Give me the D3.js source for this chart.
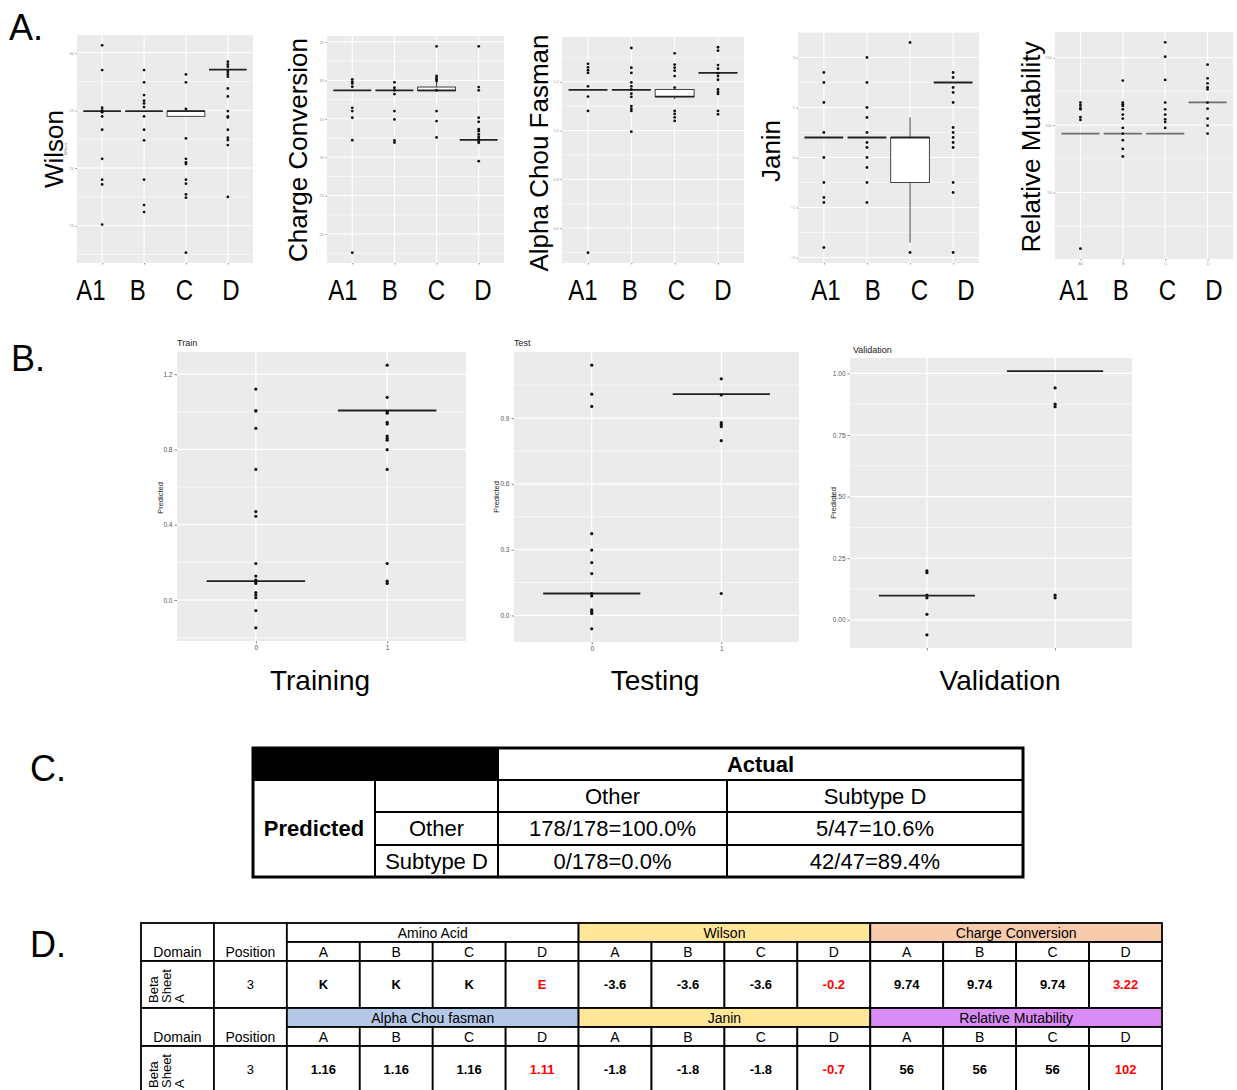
<!DOCTYPE html>
<html>
<head>
<meta charset="utf-8">
<script src="https://cdn.jsdelivr.net/npm/d3@7"></script>
<style>
  body { margin: 0; background: #fff; }
  svg { display: block; font-family: "Liberation Sans", Arial, sans-serif; }
</style>
</head>
<body>
<div id="fig"></div>
<script>
// ---- Panel A data ----
var groupsA = ["A1", "B", "C", "D"];

var wilsonPoints = [
    [30.64, 28.5, 25.23, 25.0, 24.83, 24.48, 23.32, 20.8, 18.99, 18.58, 15.09],
    [28.5, 27.43, 26.33, 25.84, 25.6, 25.29, 24.48, 23.32, 22.4, 18.99, 16.79, 16.18],
    [28.12, 27.43, 25.12, 22.57, 20.8, 20.49, 20.35, 18.99, 18.64, 17.72, 17.43, 12.66],
    [29.22, 28.99, 28.79, 28.5, 28.32, 28.12, 27.92, 26.9, 26.21, 24.94, 24.48, 24.39, 23.32, 22.63, 22.43, 21.99, 17.49]
];
// box stats per group: [lower whisker, q1, median, q3, upper whisker]
var wilsonBoxes = [
    [24.94, 24.94, 24.94, 24.94, 24.94],
    [24.94, 24.94, 24.94, 24.94, 24.94],
    [24.48, 24.48, 24.94, 24.94, 25.12],
    [28.53, 28.53, 28.53, 28.53, 28.53]
];
var wilsonTicks = [15, 20, 25, 30];

var chargePoints = [
    [40.13, 39.83, 39.6, 39.17, 36.43, 36.0, 35.13, 32.22, 17.57],
    [39.74, 39.04, 38.7, 38.22, 36.0, 34.91, 32.17, 31.91],
    [44.43, 40.57, 40.35, 40.13, 39.91, 38.7, 36.0, 34.7, 32.57],
    [44.43, 39.13, 38.7, 35.13, 34.6, 33.65, 33.39, 32.96, 32.65, 32.39, 32.26, 32.09, 31.87, 29.48]
];
var chargeBoxes = [
    [38.7, 38.7, 38.7, 38.7, 38.7],
    [38.7, 38.7, 38.7, 38.7, 38.7],
    [38.65, 38.65, 38.7, 39.13, 40.35],
    [32.26, 32.26, 32.26, 32.26, 32.26]
];
var chargeTicks = [20, 25, 30, 35, 40, 45];

var alphaPoints = [
    [1.273, 1.259, 1.247, 1.236, 1.181, 1.139, 1.080, 0.499],
    [1.338, 1.257, 1.236, 1.197, 1.181, 1.168, 1.151, 1.138, 1.1, 1.089, 1.080, 0.995],
    [1.316, 1.270, 1.258, 1.245, 1.223, 1.176, 1.080, 1.068, 1.054, 1.039],
    [1.341, 1.327, 1.268, 1.253, 1.235, 1.223, 1.208, 1.168, 1.158, 1.150, 1.080, 1.066]
];
var alphaBoxes = [
    [1.166, 1.166, 1.166, 1.166, 1.166],
    [1.166, 1.166, 1.166, 1.166, 1.166],
    [1.128, 1.139, 1.139, 1.168, 1.181],
    [1.236, 1.236, 1.236, 1.236, 1.236]
];
var alphaTicks = [0.6, 0.8, 1.0, 1.2];

var janinPoints = [
    [1.7, 1.5, 1.1, 0.5, 0, -0.5, -0.8, -0.9, -1.8],
    [2.0, 1.5, 1.0, 0.8, 0.5, 0.3, 0.2, 0, -0.2, -0.5, -0.9],
    [2.3, -1.9],
    [1.7, 1.6, 1.4, 1.3, 1.1, 0.6, 0.5, 0.4, 0.3, 0.2, -0.5, -0.7, -1.9]
];
var janinBoxes = [
    [0.4, 0.4, 0.4, 0.4, 0.4],
    [0.4, 0.4, 0.4, 0.4, 0.4],
    [-1.7, -0.5, 0.4, 0.4, 0.8],
    [1.5, 1.5, 1.5, 1.5, 1.5]
];
var janinTicks = [-2, -1, 0, 1, 2];

var mutabilityPoints = [
    [116.7, 114.7, 112.7, 111.7, 105.8, 103.8, 8.3],
    [133.0, 116.7, 115.4, 114.2, 111.7, 107.8, 104.8, 97.9, 93.7, 88.8, 82.3, 76.7],
    [161.4, 150.7, 133.5, 116.7, 111.7, 107.8, 104.3, 102.3, 97.9],
    [144.8, 134.7, 131.0, 128.0, 126.5, 116.7, 112.2, 104.8, 99.6, 93.7]
];
var mutabilityBoxes = [
    [93.7, 93.7, 93.7, 93.7, 93.7],
    [93.7, 93.7, 93.7, 93.7, 93.7],
    [93.7, 93.7, 93.7, 93.7, 93.7],
    [116.9, 116.9, 116.9, 116.9, 116.9]
];
var mutabilityTicks = [50, 100, 150];

// ---- Panel B data ----
var classesB = ["0", "1"];
var trainPoints = [
    [1.121, 1.007, 1.004, 0.912, 0.694, 0.470, 0.445, 0.194, 0.127, 0.106, 0.097, 0.088, 0.040, 0.026, 0.012, -0.056, -0.148],
    [1.248, 1.077, 1.0, 0.993, 0.944, 0.935, 0.871, 0.859, 0.849, 0.799, 0.694, 0.194, 0.1, 0.088]
];
var trainMedians = [0.1, 1.007];
var trainTicks = [0.0, 0.4, 0.8, 1.2];

var testPoints = [
    [1.141, 1.009, 0.953, 0.373, 0.298, 0.241, 0.191, 0.1, 0.089, 0.026, 0.018, 0.009, -0.061],
    [1.079, 1.005, 0.879, 0.870, 0.861, 0.797, 0.1]
];
var testMedians = [0.1, 1.009];
var testTicks = [0.0, 0.3, 0.6, 0.9];

var validPoints = [
    [0.199, 0.191, 0.1, 0.089, 0.022, -0.061],
    [0.941, 0.875, 0.865, 0.1, 0.089]
];
var validMedians = [0.098, 1.009];
var validTicks = [0.0, 0.25, 0.5, 0.75, 1.0];

// ---- Panel C data ----
var confusionCols = ["Other", "Subtype D"];
var confusionRows = ["Other", "Subtype D"];
var confusionCells = [
    ["178/178=100.0%", "5/47=10.6%"],
    ["0/178=0.0%", "42/47=89.4%"]
];

// ---- Panel D data ----
var subtypes = ["A", "B", "C", "D"];
var featureGroups1 = ["Amino Acid", "Wilson", "Charge Conversion"];
var featureGroups2 = ["Alpha Chou fasman", "Janin", "Relative Mutability"];
var featureValues1 = [["K", "K", "K", "E"], ["-3.6", "-3.6", "-3.6", "-0.2"], ["9.74", "9.74", "9.74", "3.22"]];
var featureValues2 = [["1.16", "1.16", "1.16", "1.11"], ["-1.8", "-1.8", "-1.8", "-0.7"], ["56", "56", "56", "102"]];
var domainWords = ["Beta", "Sheet", "A"];
var positionValue = "3";

// ------------------------------------------------------------------
var svg = d3.select("#fig").append("svg")
    .attr("width", 1237)
    .attr("height", 1090);

// Draw one ggplot-like boxplot-with-points panel, returns the x scale
function drawBoxPanel(p, st) {
    var bx = p.box[0], by = p.box[1], w = p.box[2], h = p.box[3];
    var g = svg.append("g").attr("transform", "translate(" + bx + "," + by + ")");

    var ext = d3.extent(d3.merge(p.points.concat(p.boxes)));
    var pad = (ext[1] - ext[0]) * 0.05;
    var y = d3.scaleLinear().domain([ext[0] - pad, ext[1] + pad]).range([h, 0]);
    var x = d3.scalePoint().domain(p.cats).range([0, w]).padding(0.6);

    g.append("rect").attr("width", w).attr("height", h).attr("fill", "#ebebeb");

    // minor + major grid
    var step = p.ticks[1] - p.ticks[0];
    var minor = d3.range(p.ticks[0] - step / 2, p.ticks[p.ticks.length - 1] + step, step)
        .filter(function(v) { return v > y.domain()[0] && v < y.domain()[1]; });
    g.selectAll(".minor").data(minor).enter().append("line")
        .attr("class", "minor")
        .attr("x1", 0).attr("x2", w)
        .attr("y1", function(d) { return y(d); }).attr("y2", function(d) { return y(d); })
        .attr("stroke", "#fff").attr("stroke-width", st.minorW);
    g.selectAll(".major").data(p.ticks).enter().append("line")
        .attr("class", "major")
        .attr("x1", 0).attr("x2", w)
        .attr("y1", function(d) { return y(d); }).attr("y2", function(d) { return y(d); })
        .attr("stroke", "#fff").attr("stroke-width", st.majorW);
    g.selectAll(".vgrid").data(p.cats).enter().append("line")
        .attr("class", "vgrid")
        .attr("x1", function(d) { return x(d); }).attr("x2", function(d) { return x(d); })
        .attr("y1", 0).attr("y2", h)
        .attr("stroke", "#fff").attr("stroke-width", st.majorW);

    // axes
    var yAxis = g.append("g")
        .call(d3.axisLeft(y).tickValues(p.ticks).tickSize(st.tickLen).tickPadding(st.tickPad)
            .tickFormat(d3.format(p.fmt)));
    var xAxis = g.append("g")
        .attr("transform", "translate(0," + h + ")")
        .call(d3.axisBottom(x).tickSize(st.tickLen).tickPadding(st.tickPad)
            .tickFormat(p.xLabels ? null : function() { return ""; }));
    [yAxis, xAxis].forEach(function(a) {
        a.select(".domain").remove();
        a.selectAll(".tick line").attr("stroke", "#444").attr("stroke-width", 0.6);
        a.selectAll(".tick text").attr("fill", st.tickColor)
            .style("font-size", st.tickFont + "px")
            .style("font-family", "'Liberation Sans', Arial, sans-serif");
    });

    // boxes
    var bw = x.step() * st.boxFrac;
    p.boxes.forEach(function(s, i) {
        var cx = x(p.cats[i]);
        if (s[3] > s[1]) {
            g.append("line").attr("x1", cx).attr("x2", cx).attr("y1", y(s[4])).attr("y2", y(s[3]))
                .attr("stroke", "#444").attr("stroke-width", 1);
            g.append("line").attr("x1", cx).attr("x2", cx).attr("y1", y(s[1])).attr("y2", y(s[0]))
                .attr("stroke", "#444").attr("stroke-width", 1);
            g.append("rect").attr("x", cx - bw / 2).attr("y", y(s[3]))
                .attr("width", bw).attr("height", y(s[1]) - y(s[3]))
                .attr("fill", "#fff").attr("stroke", "#444").attr("stroke-width", 1);
        }
        g.append("line").attr("x1", cx - bw / 2).attr("x2", cx + bw / 2)
            .attr("y1", y(s[2])).attr("y2", y(s[2]))
            .attr("stroke", p.medColor || "#222").attr("stroke-width", st.medW);
    });

    // points
    p.points.forEach(function(vals, i) {
        g.selectAll(null).data(vals).enter().append("circle")
            .attr("cx", x(p.cats[i]))
            .attr("cy", function(d) { return y(d); })
            .attr("r", st.r)
            .attr("fill", "#111");
    });

    return x;
}

// ---- Panel A ----
var styleA = { minorW: 0.5, majorW: 1, tickLen: 1.5, tickPad: 1.5, tickFont: 4, tickColor: "#9a9a9a", boxFrac: 0.9, medW: 1.8, r: 1.4 };
// labelStart: where the large group labels begin (they were placed by hand under each plot)
var panelsA = [
    { box: [77, 35, 176, 228], label: "Wilson", labelPos: [54, 149], labelStart: 91, points: wilsonPoints, boxes: wilsonBoxes, ticks: wilsonTicks, fmt: "d", small: "Wilson" },
    { box: [327, 36, 177, 227], label: "Charge Conversion", labelPos: [298, 150], labelStart: 343, points: chargePoints, boxes: chargeBoxes, ticks: chargeTicks, fmt: "d" },
    { box: [562, 37, 182, 226], label: "Alpha Chou Fasman", labelPos: [539, 153], labelStart: 583, points: alphaPoints, boxes: alphaBoxes, ticks: alphaTicks, fmt: ".1f" },
    { box: [798, 32, 181, 231], label: "Janin", labelPos: [771, 151], labelStart: 826, points: janinPoints, boxes: janinBoxes, ticks: janinTicks, fmt: "d" },
    { box: [1055, 32, 178, 227], label: "Relative Mutability", labelPos: [1031, 147], labelStart: 1074, points: mutabilityPoints, boxes: mutabilityBoxes, ticks: mutabilityTicks, fmt: "d", xLabels: true, medColor: "#6e6e6e" }
];

panelsA.forEach(function(p) {
    p.cats = groupsA;
    drawBoxPanel(p, styleA);

    svg.append("text")
        .attr("transform", "translate(" + p.labelPos[0] + "," + p.labelPos[1] + ") rotate(-90)")
        .attr("text-anchor", "middle").attr("dy", "0.35em")
        .style("font-size", "26px").attr("fill", "#000")
        .text(p.label);

    if (p.small) {
        svg.append("text")
            .attr("transform", "translate(" + (p.box[0] - 11) + "," + (p.box[1] + p.box[3] / 2) + ") rotate(-90)")
            .attr("text-anchor", "middle").attr("dy", "0.35em")
            .style("font-size", "4px").attr("fill", "#777")
            .text(p.small);
    }

    var xl = d3.scalePoint().domain(groupsA).range([p.labelStart, p.labelStart + 140]);
    svg.selectAll(null).data(groupsA).enter().append("text")
        .attr("transform", function(d) { return "translate(" + xl(d) + ",300) scale(0.8,1)"; })
        .attr("text-anchor", "middle")
        .style("font-size", "30px").attr("fill", "#000")
        .text(function(d) { return d; });
});

// ---- Panel B ----
var styleB = { minorW: 0.6, majorW: 1.2, tickLen: 2.5, tickPad: 2, tickFont: 6.5, tickColor: "#555", boxFrac: 0.75, medW: 1.8, r: 1.6 };
var panelsB = [
    { box: [177, 352, 289, 289], title: "Train", titlePos: [177, 346], ylabPos: [160, 498], points: trainPoints, medians: trainMedians, ticks: trainTicks, fmt: ".1f", xLabels: true, name: "Training", namePos: [320, 690] },
    { box: [514, 352, 285, 290], title: "Test", titlePos: [514, 346], ylabPos: [496, 497], points: testPoints, medians: testMedians, ticks: testTicks, fmt: ".1f", xLabels: true, name: "Testing", namePos: [655, 690] },
    { box: [850, 358, 282, 290], title: "Validation", titlePos: [853, 353], ylabPos: [833, 503], points: validPoints, medians: validMedians, ticks: validTicks, fmt: ".2f", xLabels: false, name: "Validation", namePos: [1000, 690] }
];

panelsB.forEach(function(p) {
    p.cats = classesB;
    p.boxes = p.medians.map(function(m) { return [m, m, m, m, m]; });
    drawBoxPanel(p, styleB);

    svg.append("text")
        .attr("x", p.titlePos[0]).attr("y", p.titlePos[1])
        .style("font-size", "9px").attr("fill", "#222")
        .text(p.title);

    svg.append("text")
        .attr("transform", "translate(" + p.ylabPos[0] + "," + p.ylabPos[1] + ") rotate(-90)")
        .attr("text-anchor", "middle").attr("dy", "0.35em")
        .style("font-size", "7.5px").attr("fill", "#222")
        .text("Predicted");

    svg.append("text")
        .attr("x", p.namePos[0]).attr("y", p.namePos[1])
        .attr("text-anchor", "middle")
        .style("font-size", "28px").attr("fill", "#000")
        .text(p.name);
});

// ---- Panel letters ----
var panelLetters = [["A.", 9, 40], ["B.", 11, 371], ["C.", 30, 781], ["D.", 30, 957]];
svg.selectAll(".panel-letter").data(panelLetters).enter().append("text")
    .attr("class", "panel-letter")
    .attr("x", function(d) { return d[1]; })
    .attr("y", function(d) { return d[2]; })
    .style("font-size", "36px").attr("fill", "#000")
    .text(function(d) { return d[0]; });

// ---- Panel C: confusion table ----
var cCols = [253, 375, 498, 727, 1023];
var cRows = [748, 780, 812, 845, 877];
var tc = svg.append("g");

tc.append("rect").attr("x", cCols[0]).attr("y", cRows[0])
    .attr("width", cCols[2] - cCols[0]).attr("height", cRows[1] - cRows[0]).attr("fill", "#000");

function cLine(x1, y1, x2, y2) {
    tc.append("line").attr("x1", x1).attr("y1", y1).attr("x2", x2).attr("y2", y2)
        .attr("stroke", "#000").attr("stroke-width", 2);
}
cLine(cCols[0], cRows[1], cCols[4], cRows[1]);
cLine(cCols[1], cRows[2], cCols[4], cRows[2]);
cLine(cCols[1], cRows[3], cCols[4], cRows[3]);
cLine(cCols[1], cRows[1], cCols[1], cRows[4]);
cLine(cCols[2], cRows[0], cCols[2], cRows[4]);
cLine(cCols[3], cRows[1], cCols[3], cRows[4]);
tc.append("rect").attr("x", cCols[0]).attr("y", cRows[0])
    .attr("width", cCols[4] - cCols[0]).attr("height", cRows[4] - cRows[0])
    .attr("fill", "none").attr("stroke", "#000").attr("stroke-width", 3);

function cText(txt, x, y, bold) {
    tc.append("text").attr("x", x).attr("y", y)
        .attr("text-anchor", "middle").attr("dy", "0.35em")
        .style("font-size", "22px").style("font-weight", bold ? "bold" : "normal")
        .attr("fill", "#000").text(txt);
}
function mid(a, b) { return (a + b) / 2; }
cText("Actual", mid(cCols[2], cCols[4]), mid(cRows[0], cRows[1]), true);
cText("Predicted", mid(cCols[0], cCols[1]), mid(cRows[1], cRows[4]), true);
confusionCols.forEach(function(c, j) {
    cText(c, mid(cCols[2 + j], cCols[3 + j]), mid(cRows[1], cRows[2]), false);
});
confusionRows.forEach(function(r, i) {
    cText(r, mid(cCols[1], cCols[2]), mid(cRows[2 + i], cRows[3 + i]), false);
    confusionCells[i].forEach(function(v, j) {
        cText(v, mid(cCols[2 + j], cCols[3 + j]), mid(cRows[2 + i], cRows[3 + i]), false);
    });
});

// ---- Panel D: feature table ----
var groupFill = {
    "Amino Acid": "#ffffff", "Wilson": "#ffe699", "Charge Conversion": "#f8cbad",
    "Alpha Chou fasman": "#b4c7e7", "Janin": "#ffe699", "Relative Mutability": "#d98cf5"
};
var colX = d3.scaleBand().domain(d3.range(14)).range([141, 1162]);
var bw = colX.bandwidth();
var rowH = [19, 19, 47];
var td = svg.append("g");

function dCell(x, y, w, h, fill) {
    td.append("rect").attr("x", x).attr("y", y).attr("width", w).attr("height", h)
        .attr("fill", fill).attr("stroke", "#000").attr("stroke-width", 1.8);
}
function dText(txt, x, y, size, bold, color) {
    td.append("text").attr("x", x).attr("y", y)
        .attr("text-anchor", "middle").attr("dy", "0.35em")
        .style("font-size", size + "px").style("font-weight", bold ? "bold" : "normal")
        .attr("fill", color || "#000").text(txt);
}

[
    { top: 923, groups: featureGroups1, values: featureValues1 },
    { top: 1008, groups: featureGroups2, values: featureValues2 }
].forEach(function(b) {
    var y0 = b.top, y1 = y0 + rowH[0], y2 = y1 + rowH[1], y3 = y2 + rowH[2];

    // Domain / Position headers span the two header rows
    ["Domain", "Position"].forEach(function(lbl, c) {
        dCell(colX(c), y0, bw, y2 - y0, "#fff");
        dText(lbl, colX(c) + bw / 2, mid(y1, y2) + 1, 14, false);
        dCell(colX(c), y2, bw, rowH[2], "#fff");
    });
    dText(positionValue, colX(1) + bw / 2, mid(y2, y3), 13, false);

    // Rotated domain name, one word per line
    td.selectAll(null).data(domainWords).enter().append("text")
        .attr("transform", function(d, i) { return "translate(" + (colX(0) + 17 + i * 13) + "," + (y3 - 5) + ") rotate(-90)"; })
        .style("font-size", "13px").attr("fill", "#000")
        .text(function(d) { return d; });

    b.groups.forEach(function(gname, gi) {
        var c0 = 2 + gi * 4;
        dCell(colX(c0), y0, bw * 4, rowH[0], groupFill[gname]);
        dText(gname, colX(c0) + bw * 2, mid(y0, y1) + 1, 14, false);
        subtypes.forEach(function(s, k) {
            dCell(colX(c0 + k), y1, bw, rowH[1], "#fff");
            dText(s, colX(c0 + k) + bw / 2, mid(y1, y2) + 1, 14, false);
            dCell(colX(c0 + k), y2, bw, rowH[2], "#fff");
            dText(b.values[gi][k], colX(c0 + k) + bw / 2, mid(y2, y3), 13, true, k === 3 ? "#ff0000" : "#000");
        });
    });
});
</script>
</body>
</html>
